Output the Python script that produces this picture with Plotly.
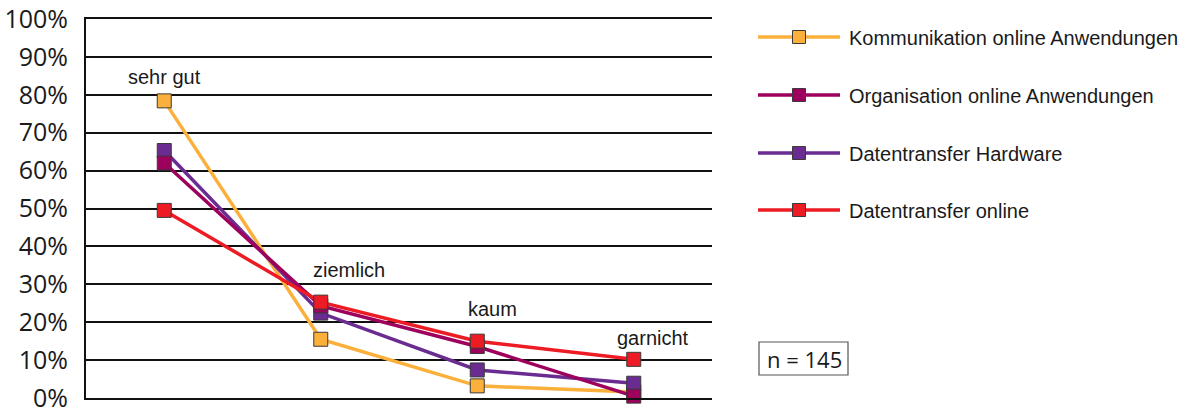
import plotly.graph_objects as go

# Ratings and survey shares (%)
categories = ["sehr gut", "ziemlich", "kaum", "garnicht"]
series_names = [
    "Kommunikation online Anwendungen",
    "Organisation online Anwendungen",
    "Datentransfer Hardware",
    "Datentransfer online",
]
kommunikation = [78.4, 15.5, 3.2, 1.6]
organisation = [62.0, 24.3, 13.6, 0.5]
hardware = [65.3, 22.4, 7.4, 3.9]
datentransfer_online = [49.5, 25.3, 15.0, 10.2]
colors = ["#FBB03B", "#9E005D", "#6A2C91", "#ED1C24"]
y_ticks = list(range(0, 101, 10))
sample_note = "n = 145"

x_pos = [i + 0.5 for i in range(len(categories))]
values = [kommunikation, organisation, hardware, datentransfer_online]

W, H = 1192, 412
L, R, T, B = 86, 480, 19, 14
PW, PH = W - L - R, H - T - B


def px(x):
    return (x - L) / PW


def py(y):
    return (H - B - y) / PH


fig = go.Figure()

# draw order: orange, purple, magenta, red (red on top)
for idx in [0, 2, 1, 3]:
    fig.add_trace(go.Scatter(
        x=x_pos, y=values[idx], mode="lines+markers", name=series_names[idx],
        line=dict(color=colors[idx], width=3.5),
        marker=dict(symbol="square", size=14, color=colors[idx],
                    line=dict(color="#3a3a3a", width=1)),
        showlegend=False, cliponaxis=False,
    ))

# category labels placed near the points
label_pos = [(0.5, 84.6), (1.68, 33.8), (2.6, 23.5), (3.62, 15.8)]
for cat, (lx, ly) in zip(categories, label_pos):
    fig.add_annotation(x=lx, y=ly, text=cat, showarrow=False,
                       font=dict(family="Liberation Sans", size=20, color="#1a1a1a"))

shapes = []
# custom legend with long line samples
legend_rows = [37, 95, 153, 210]
for i, ry in enumerate(legend_rows):
    shapes.append(dict(type="line", xref="paper", yref="paper",
                       x0=px(758), x1=px(840), y0=py(ry), y1=py(ry),
                       line=dict(color=colors[i], width=3.5)))
    shapes.append(dict(type="rect", xref="paper", yref="paper",
                       x0=px(799 - 6.5), x1=px(799 + 6.5),
                       y0=py(ry + 6.5), y1=py(ry - 6.5),
                       fillcolor=colors[i], line=dict(color="#3a3a3a", width=1)))
    fig.add_annotation(xref="paper", yref="paper", x=px(847), y=py(ry + 1),
                       xanchor="left", yanchor="middle", text=series_names[i],
                       showarrow=False,
                       font=dict(family="Liberation Sans", size=20, color="#1a1a1a"))

# sample size box
shapes.append(dict(type="rect", xref="paper", yref="paper",
                   x0=px(759), x1=px(848), y0=py(375), y1=py(342),
                   line=dict(color="#555555", width=1.2), fillcolor="white"))
fig.add_annotation(xref="paper", yref="paper", x=px(804), y=py(358.5),
                   xanchor="center", yanchor="middle", text=sample_note,
                   showarrow=False,
                   font=dict(family="Open Sans", size=22, color="#1a1a1a"))

fig.update_layout(
    width=W, height=H,
    margin=dict(l=L, r=R, t=T, b=B, pad=0, autoexpand=False),
    paper_bgcolor="white", plot_bgcolor="white",
    shapes=shapes,
    showlegend=False,
)
fig.update_xaxes(range=[0, 4], showgrid=False, zeroline=False,
                 showticklabels=False, ticks="", automargin=False,
                 showline=True, linecolor="#111111", linewidth=2, mirror=True)
fig.update_yaxes(range=[0, 100], tickvals=y_ticks,
                 ticktext=[f"{v}%" for v in y_ticks],
                 showgrid=True, gridcolor="#111111", gridwidth=2,
                 zeroline=False, ticks="", ticklabelstandoff=11, automargin=False,
                 ticklabeloverflow="allow",
                 showline=True, linecolor="#111111", linewidth=2,
                 tickfont=dict(family="Open Sans", size=25, color="#1a1a1a"))

fig.write_html("out.html")
